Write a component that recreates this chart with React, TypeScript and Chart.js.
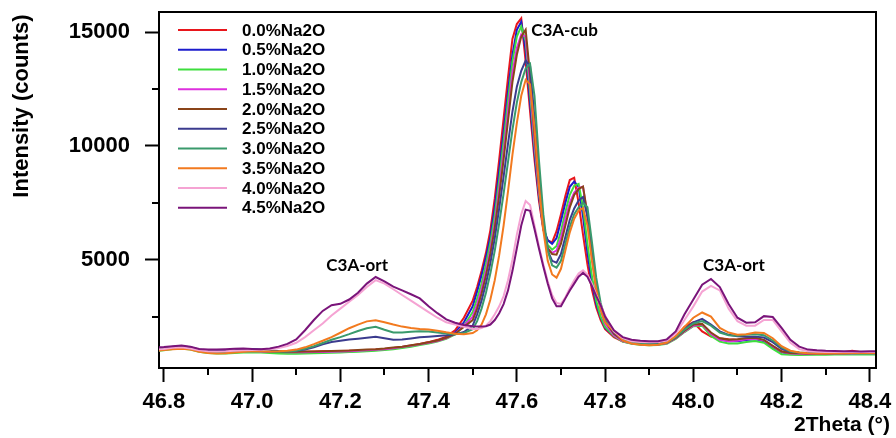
import { useEffect, useRef } from 'react';
import { Chart, registerables } from 'chart.js';

Chart.register(...registerables);

const AXIS_FONT = "'Liberation Sans', Arial, Helvetica, sans-serif";
const NOTE_FONT = "Lato, 'Open Sans', sans-serif";

// 2Theta sampling (degrees): coarse on the flanks, fine across the cubic doublet
const thetaLow = [
  46.78, 46.8, 46.82, 46.84, 46.86, 46.88, 46.9, 46.92, 46.94, 46.96,
  46.98, 47.0, 47.02, 47.04, 47.06, 47.08, 47.1, 47.12, 47.14, 47.16,
  47.18, 47.2, 47.22, 47.24, 47.26, 47.28, 47.3, 47.32, 47.34, 47.36,
  47.38, 47.4, 47.42, 47.44, 47.46, 47.48, 47.5,
];
const thetaPeak = [
  47.51, 47.52, 47.53, 47.54, 47.55, 47.56, 47.57, 47.58, 47.59, 47.6,
  47.61, 47.62, 47.63, 47.64, 47.65, 47.66, 47.67, 47.68, 47.69, 47.7,
  47.71, 47.72, 47.73, 47.74, 47.75, 47.76, 47.77, 47.78, 47.79, 47.8,
];
const thetaHigh = [
  47.82, 47.84, 47.86, 47.88, 47.9, 47.92, 47.94, 47.96, 47.98, 48.0,
  48.02, 48.04, 48.06, 48.08, 48.1, 48.12, 48.14, 48.16, 48.18, 48.2,
  48.22, 48.24, 48.26, 48.28, 48.3, 48.32, 48.34, 48.36, 48.38, 48.4,
  48.42,
];
const twoTheta = [...thetaLow, ...thetaPeak, ...thetaHigh];

// Intensity (counts) for each Na2O dosage
const na00 = [
  1050, 1100, 1150, 1170, 1120, 1020, 970, 950, 960, 980,
  990, 1000, 980, 960, 950, 950, 960, 960, 970, 975,
  980, 990, 1000, 1010, 1030, 1050, 1080, 1120, 1170, 1230,
  1300, 1380, 1480, 1620, 1900, 2450, 3200,
  3800, 4500, 5300, 6300, 7700, 9400, 11200, 13000, 14700, 15350,
  15600, 13700, 11500, 9400, 7600, 6300, 5850, 5760, 6250, 7000,
  7800, 8500, 8600, 7500, 6100, 4800, 3700, 2900, 2350, 1950,
  1600, 1400, 1330, 1290, 1270, 1290, 1380, 1600, 2050, 2250,
  1850, 1620, 1550, 1500, 1480, 1530, 1570, 1420, 1150, 980,
  930, 910, 900, 890, 890, 900, 930, 1000, 930, 900,
  890,
];
const na05 = [
  1000, 1060, 1120, 1150, 1100, 1000, 940, 920, 940, 980,
  1020, 1070, 1030, 980, 950, 930, 920, 920, 930, 940,
  950, 960, 970, 990, 1010, 1030, 1060, 1100, 1150, 1210,
  1280, 1350, 1440, 1570, 1800, 2250, 2950,
  3600, 4300, 5100, 6000, 7300, 8900, 10600, 12400, 14000, 15100,
  15450, 14200, 11900, 9700, 7800, 6400, 5850, 5700, 5950, 6700,
  7500, 8200, 8430, 8200, 6900, 5300, 4000, 3050, 2450, 2000,
  1650, 1420, 1330, 1290, 1260, 1270, 1340, 1550, 1850, 2100,
  2130, 1750, 1500, 1420, 1420, 1470, 1500, 1430, 1180, 930,
  860, 850, 850, 860, 870, 870, 870, 880, 880, 880,
  870,
];
const na10 = [
  980, 1020, 1080, 1100, 1050, 960, 900, 880, 880, 900,
  920, 930, 920, 900, 880, 870, 870, 880, 890, 900,
  910, 920, 940, 960, 980, 1000, 1030, 1070, 1120, 1180,
  1250, 1320, 1400, 1520, 1720, 2100, 2700,
  3300, 3950, 4800, 5750, 6950, 8500, 10200, 12000, 13700, 14800,
  15250, 14600, 12300, 10000, 8000, 6400, 5650, 5440, 5600, 6250,
  7100, 7850, 8250, 8330, 7300, 5700, 4300, 3200, 2500, 2050,
  1650, 1400, 1310, 1260, 1240, 1250, 1310, 1520, 1820, 2080,
  2100, 1650, 1400, 1320, 1320, 1380, 1430, 1350, 1080, 850,
  820, 810, 820, 820, 820, 830, 830, 830, 830, 830,
  830,
];
const na15 = [
  1000, 1050, 1100, 1130, 1080, 990, 950, 930, 940, 960,
  980, 990, 970, 950, 940, 930, 930, 935, 940, 950,
  960, 970, 980, 1000, 1020, 1040, 1070, 1110, 1160, 1220,
  1280, 1350, 1430, 1550, 1750, 2100, 2500,
  3050, 3700, 4500, 5450, 6600, 8100, 9700, 11500, 13200, 14300,
  14900, 14800, 12700, 10200, 8100, 6400, 5500, 5300, 5400, 5950,
  6800, 7500, 7950, 8150, 8200, 6900, 5100, 3700, 2800, 2200,
  1680, 1430, 1330, 1290, 1260, 1270, 1330, 1540, 1850, 2100,
  2150, 1750, 1480, 1420, 1440, 1500, 1530, 1460, 1200, 950,
  880, 870, 860, 870, 870, 880, 880, 880, 890, 890,
  880,
];
const na20 = [
  1080, 1120, 1170, 1180, 1130, 1040, 980, 960, 970, 990,
  1000, 1010, 990, 970, 960, 955, 960, 965, 970, 980,
  990, 1000, 1010, 1030, 1050, 1070, 1100, 1140, 1180, 1240,
  1300, 1370, 1450, 1570, 1750, 2050, 2350,
  2850, 3500, 4300, 5250, 6400, 7800, 9400, 11100, 12800, 14000,
  14800, 15100, 13100, 10500, 8300, 6500, 5500, 5250, 5220, 5700,
  6500, 7300, 7850, 8100, 8215, 7000, 5200, 3800, 2900, 2300,
  1750, 1460, 1350, 1300, 1280, 1290, 1350, 1560, 1880, 2150,
  2180, 1800, 1550, 1480, 1500, 1550, 1570, 1480, 1220, 970,
  900, 890, 880, 880, 880, 890, 890, 900, 900, 900,
  900,
];
const na25 = [
  1050, 1100, 1180, 1200, 1150, 1060, 1000, 990, 1000, 1020,
  1050, 1080, 1050, 1010, 990, 980, 1000, 1050, 1150, 1280,
  1380, 1440, 1490, 1530, 1570, 1610, 1550, 1480, 1490, 1540,
  1590, 1620, 1650, 1680, 1720, 1820, 2100,
  2600, 3200, 3950, 4850, 5950, 7250, 8650, 10100, 11500, 12600,
  13300, 13750, 13500, 11200, 8700, 6700, 5400, 4950, 4870, 5250,
  6000, 6750, 7250, 7600, 7750, 6900, 5300, 3900, 2950, 2350,
  1800, 1480, 1360, 1310, 1290, 1300, 1370, 1600, 1950, 2250,
  2400, 2150, 1850, 1700, 1640, 1620, 1620, 1580, 1380, 1080,
  950, 910, 890, 890, 890, 900, 900, 900, 900, 900,
  900,
];
const na30 = [
  1020, 1080, 1140, 1160, 1110, 1020, 970, 950, 960, 980,
  1000, 1010, 990, 970, 960, 970, 1000, 1090, 1200, 1340,
  1480, 1600, 1730, 1870, 1990, 2050, 1920, 1800, 1800, 1830,
  1860, 1850, 1800, 1760, 1730, 1780, 1950,
  2300, 2850, 3550, 4400, 5400, 6600, 7900, 9300, 10700, 11900,
  12800, 13400, 13600, 12200, 9400, 7000, 5400, 4750, 4650, 4950,
  5700, 6450, 7000, 7300, 7500, 7300, 5800, 4200, 3100, 2400,
  1850, 1500, 1370, 1310, 1280, 1290, 1360, 1580, 1920, 2200,
  2300, 2100, 1800, 1680, 1660, 1700, 1720, 1680, 1450, 1150,
  970, 920, 900, 890, 890, 890, 890, 890, 890, 890,
  890,
];
const na35 = [
  1000, 1030, 1070, 1090, 1050, 960, 900, 880, 890, 920,
  960, 990, 980, 970, 980, 1000, 1050, 1150, 1290, 1440,
  1600, 1790, 1990, 2150, 2290, 2340, 2250, 2150, 2060, 2000,
  1960, 1930, 1880, 1810, 1750, 1720, 1780,
  1900, 2150, 2600, 3250, 4100, 5200, 6500, 8000, 9600, 11000,
  12200, 12900, 12700, 10800, 8300, 6300, 4950, 4350, 4210, 4600,
  5400, 6200, 6800, 7150, 7270, 6500, 5000, 3700, 2800, 2250,
  1850, 1450, 1320, 1260, 1240, 1260, 1360, 1650, 2050, 2450,
  2680, 2500, 2000, 1800, 1700, 1720, 1800, 1780, 1550, 1200,
  1000, 920, 890, 880, 880, 890, 890, 900, 900, 900,
  900,
];
const na40 = [
  1050, 1080, 1130, 1150, 1100, 1020, 980, 970, 980, 1000,
  1020, 1030, 1040, 1070, 1120, 1210, 1350, 1600, 1900, 2200,
  2550, 2850, 3150, 3450, 3800, 4100, 3950, 3700, 3450, 3200,
  2950, 2700, 2450, 2250, 2150, 2050, 1960,
  1950, 2000, 2100, 2300, 2600, 2950, 3400, 4100, 5000, 6100,
  7000, 7580, 7400, 6500, 5600, 4800, 4050, 3450, 3100, 3050,
  3350, 3750, 4100, 4400, 4530, 4350, 3950, 3450, 3000, 2550,
  1850, 1550, 1420, 1380, 1370, 1380, 1450, 1750, 2350, 2950,
  3600, 3850, 3650, 2850, 2300, 2100, 2100, 2350, 2350, 1850,
  1350, 1070, 980, 960, 950, 950, 950, 950, 950, 950,
  950,
];
const na45 = [
  1150, 1160, 1200, 1230, 1180, 1080, 1050, 1050, 1070, 1090,
  1100, 1080, 1070, 1100, 1180, 1300, 1500, 1900, 2350, 2750,
  3000, 3060, 3250, 3550, 3950, 4240, 4050, 3820, 3650, 3480,
  3300, 2950, 2650, 2380, 2230, 2130, 2080,
  2060, 2060, 2080, 2150, 2350, 2650, 3050, 3650, 4500, 5500,
  6500, 7200, 7150, 6350, 5500, 4700, 3950, 3300, 2950, 2950,
  3300, 3650, 3950, 4250, 4420, 4250, 3850, 3400, 3000, 2500,
  1900, 1600, 1480, 1440, 1420, 1420, 1500, 1850, 2600, 3250,
  3900, 4150, 3800, 3050, 2450, 2230, 2250, 2520, 2480, 2000,
  1480, 1180, 1050, 1020, 1000, 990, 980, 980, 970, 980,
  980,
];

const seriesNames = [
  '0.0%Na2O', '0.5%Na2O', '1.0%Na2O', '1.5%Na2O', '2.0%Na2O',
  '2.5%Na2O', '3.0%Na2O', '3.5%Na2O', '4.0%Na2O', '4.5%Na2O',
];
const seriesValues = [na00, na05, na10, na15, na20, na25, na30, na35, na40, na45];
const seriesColors = [
  '#e8161c', '#1c1ccc', '#3ede3e', '#de30de', '#8a4419',
  '#3b3b8e', '#3a9a6c', '#f27a1f', '#f5a3d3', '#7a147a',
];

const xMajorTicks = [46.8, 47.0, 47.2, 47.4, 47.6, 47.8, 48.0, 48.2, 48.4];
const xMinorTicks = [46.9, 47.1, 47.3, 47.5, 47.7, 47.9, 48.1, 48.3];
const yMajorTicks = [5000, 10000, 15000];
const yMinorTicks = [2500, 7500, 12500];

const phaseNames = ['C3A-ort', 'C3A-cub', 'C3A-ort'];
const phaseAt2Theta = [47.238, 47.708, 48.092];
const phaseAtCounts = [4724, 15049, 4724];

const X_MIN = 46.789;
const X_MAX = 48.414;
const Y_MIN = 242;
const Y_MAX = 15880;

const decorations = {
  id: 'decorations',
  afterDraw(chart: any) {
    const { ctx, chartArea: a, scales } = chart;
    const xs = scales.x;
    const ys = scales.y;
    ctx.save();

    // closing frame (top and right edges)
    ctx.strokeStyle = '#000';
    ctx.lineWidth = 2;
    ctx.beginPath();
    ctx.moveTo(a.left - 1, a.top);
    ctx.lineTo(a.right, a.top);
    ctx.lineTo(a.right, a.bottom + 1);
    ctx.stroke();

    // minor ticks
    ctx.beginPath();
    for (const v of xMinorTicks) {
      const px = Math.round(xs.getPixelForValue(v));
      ctx.moveTo(px, a.bottom);
      ctx.lineTo(px, a.bottom + 7);
    }
    for (const v of yMinorTicks) {
      const py = Math.round(ys.getPixelForValue(v));
      ctx.moveTo(a.left, py);
      ctx.lineTo(a.left - 7, py);
    }
    ctx.stroke();

    // legend inside the plot
    ctx.font = `bold 17px ${AXIS_FONT}`;
    ctx.textAlign = 'left';
    ctx.textBaseline = 'middle';
    seriesNames.forEach((name, i) => {
      const rowY = a.top + 18 + i * 19.75;
      ctx.strokeStyle = seriesColors[i];
      ctx.lineWidth = 2;
      ctx.beginPath();
      ctx.moveTo(a.left + 19, rowY);
      ctx.lineTo(a.left + 68, rowY);
      ctx.stroke();
      ctx.fillStyle = '#000';
      ctx.fillText(name, a.left + 83, rowY + 1);
    });

    // phase labels
    ctx.font = `bold 17px ${NOTE_FONT}`;
    ctx.textAlign = 'center';
    ctx.fillStyle = '#000';
    phaseNames.forEach((name, i) => {
      ctx.fillText(name, xs.getPixelForValue(phaseAt2Theta[i]), ys.getPixelForValue(phaseAtCounts[i]));
    });

    // axis titles
    ctx.font = `bold 21px ${AXIS_FONT}`;
    ctx.textAlign = 'right';
    ctx.fillText('2Theta (°)', 890, 425);

    ctx.save();
    ctx.translate(22, 106);
    ctx.rotate(-Math.PI / 2);
    ctx.textAlign = 'center';
    ctx.font = `bold 22px ${AXIS_FONT}`;
    ctx.fillText('Intensity (counts)', 0, 0);
    ctx.restore();

    ctx.restore();
  },
};

export default function App() {
  const canvasRef = useRef<HTMLCanvasElement>(null);

  useEffect(() => {
    const canvas = canvasRef.current;
    if (!canvas) return;

    const datasets = seriesValues.map((vals, i) => ({
      label: seriesNames[i],
      data: twoTheta.map((t, k) => ({ x: t, y: vals[k] })),
      borderColor: seriesColors[i],
      backgroundColor: seriesColors[i],
      borderWidth: 2,
      pointRadius: 0,
      tension: 0,
      fill: false,
      order: seriesNames.length - i,
    }));

    const chart = new Chart(canvas, {
      type: 'line',
      data: { datasets },
      options: {
        animation: false,
        responsive: false,
        maintainAspectRatio: false,
        devicePixelRatio: 1,
        events: [],
        layout: { padding: { top: 12, right: 20, left: 0, bottom: 0 } },
        plugins: { legend: { display: false }, tooltip: { enabled: false } },
        scales: {
          x: {
            type: 'linear',
            min: X_MIN,
            max: X_MAX,
            afterBuildTicks: (s: any) => {
              s.ticks = xMajorTicks.map((v) => ({ value: v }));
            },
            afterFit: (s: any) => {
              s.height = 70;
              s.paddingLeft = 0;
              s.paddingRight = 0;
            },
            ticks: {
              autoSkip: false,
              maxRotation: 0,
              padding: 7,
              color: '#000',
              font: { family: AXIS_FONT, size: 22, weight: 'bold' },
              callback: (v: any) => Number(v).toFixed(1),
            },
            grid: {
              drawOnChartArea: false,
              drawTicks: true,
              tickLength: 14,
              tickWidth: 2,
              tickColor: '#000',
            },
            border: { display: true, color: '#000', width: 2 },
          },
          y: {
            type: 'linear',
            min: Y_MIN,
            max: Y_MAX,
            afterBuildTicks: (s: any) => {
              s.ticks = yMajorTicks.map((v) => ({ value: v }));
            },
            afterFit: (s: any) => {
              s.width = 159;
              s.paddingTop = 0;
              s.paddingBottom = 0;
            },
            ticks: {
              padding: 15,
              color: '#000',
              font: { family: AXIS_FONT, size: 22, weight: 'bold' },
              callback: (v: any) => String(v),
            },
            grid: {
              drawOnChartArea: false,
              drawTicks: true,
              tickLength: 14,
              tickWidth: 2,
              tickColor: '#000',
            },
            border: { display: true, color: '#000', width: 2 },
          },
        },
      },
      plugins: [decorations],
    });

    return () => chart.destroy();
  }, []);

  return (
    <div style={{ position: 'fixed', left: 0, top: 0, width: 896, height: 438, background: '#fff' }}>
      <canvas ref={canvasRef} width={896} height={438} style={{ display: 'block' }} />
    </div>
  );
}
